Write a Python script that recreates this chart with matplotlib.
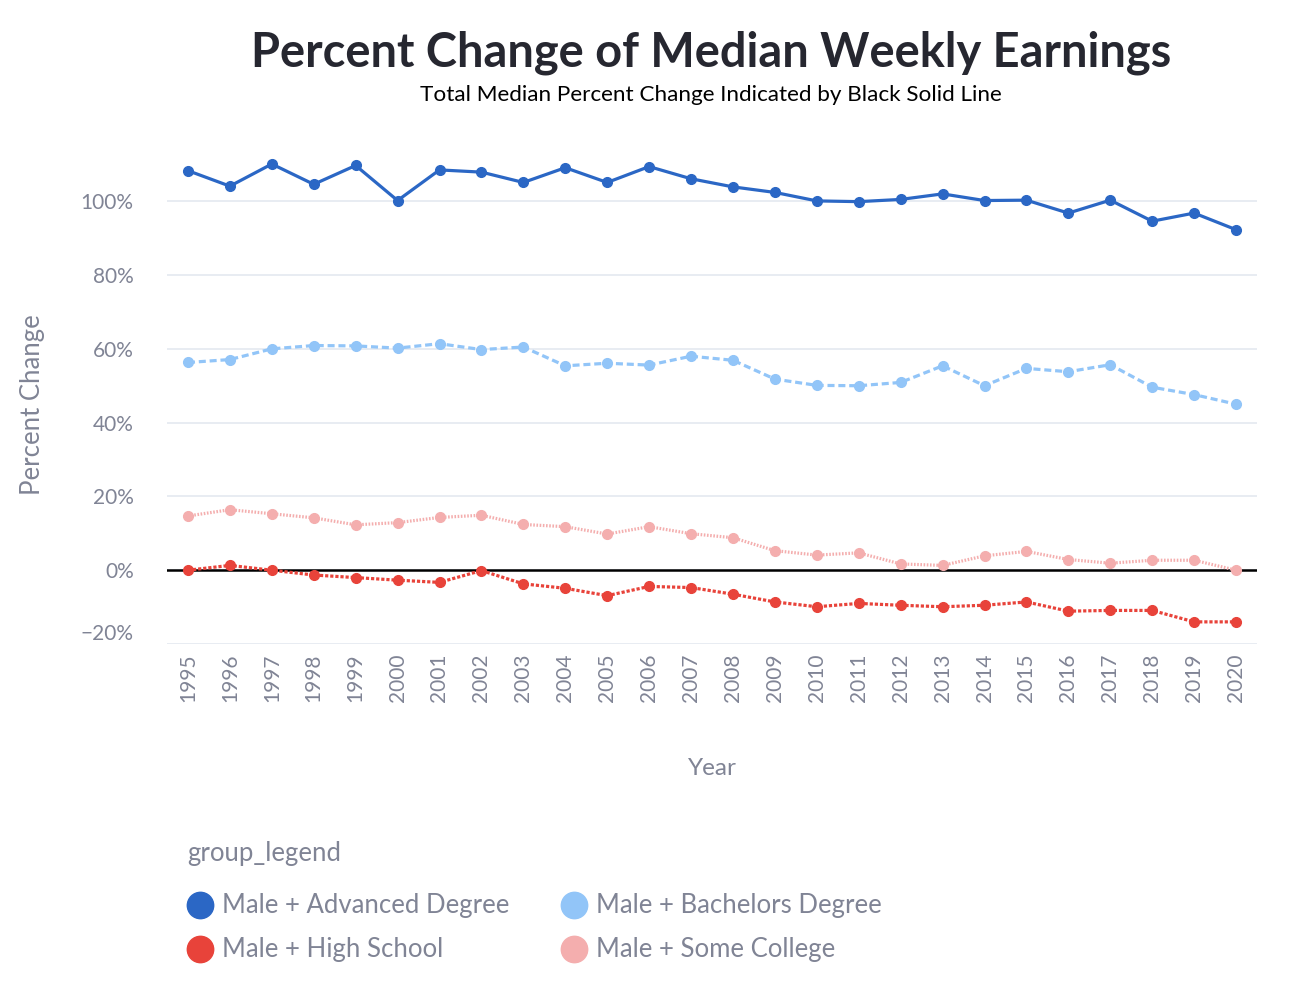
import numpy as np
import matplotlib
matplotlib.use("Agg")
import matplotlib.pyplot as plt
from matplotlib.lines import Line2D

years = list(range(1995, 2021))

advanced = [108.3, 104.1, 110.1, 104.6, 109.7, 100.2, 108.5, 107.9, 105.1, 109.1,
            105.1, 109.4, 106.1, 103.9, 102.4, 100.1, 99.9, 100.5, 102.0, 100.2,
            100.3, 96.8, 100.3, 94.6, 96.8, 92.3]
bachelors = [56.3, 57.1, 60.0, 60.9, 60.8, 60.2, 61.4, 59.8, 60.5, 55.4,
             56.1, 55.6, 58.0, 56.9, 51.8, 50.1, 50.0, 50.9, 55.4, 50.0,
             54.7, 53.8, 55.7, 49.6, 47.6, 45.0]
high_school = [0.0, 1.3, 0.0, -1.3, -2.0, -2.7, -3.3, -0.1, -3.7, -4.9,
               -6.9, -4.4, -4.7, -6.5, -8.6, -9.9, -9.0, -9.5, -9.9, -9.5,
               -8.6, -11.1, -10.9, -10.9, -14.0, -14.0]
some_college = [14.7, 16.4, 15.3, 14.2, 12.3, 12.9, 14.3, 14.9, 12.4, 11.8,
                9.8, 11.8, 9.9, 8.8, 5.3, 4.1, 4.7, 1.7, 1.3, 3.9,
                5.1, 2.9, 1.9, 2.7, 2.7, 0.0]
total_median = 0.0

yticks = [-20, 0, 20, 40, 60, 80, 100]

labels = ["Male + Advanced Degree", "Male + Bachelors Degree",
          "Male + High School", "Male + Some College"]
colors = ["#2b67c5", "#92c5f8", "#e8433a", "#f4aeae"]

plt.rcParams['font.family'] = ['Lato', 'DejaVu Sans']
gray = "#808495"

fig = plt.figure(figsize=(12.96, 10.06), dpi=100)
W, H = 1296, 1006
# plot area in pixels: left 167, right 1257, top 157, bottom 644
ax = fig.add_axes([167 / W, 1 - 644 / H, (1257 - 167) / W, (644 - 157) / H])

x = np.arange(len(years))
ax.plot(x, advanced, color=colors[0], lw=2.3, marker='o', ms=7, zorder=4)
ax.plot(x, bachelors, color=colors[1], lw=2.3, ls=(0, (2.2, 1.2)), marker='o', ms=7, zorder=4)
ax.plot(x, high_school, color=colors[2], lw=2.3, ls=(0, (1, 0.6)), marker='o', ms=7, zorder=4)
ax.plot(x, some_college, color=colors[3], lw=2.3, ls=(0, (0.5, 0.5)), marker='o', ms=7, zorder=4)
ax.axhline(total_median, color='black', lw=1.8, zorder=3)

ax.set_xlim(-0.5, len(years) - 0.5)
ax.set_ylim(-20, 112)
ax.set_xticks(x)
ax.set_xticklabels([str(y) for y in years], rotation=90, fontsize=15, color=gray)
ax.set_yticks(yticks)
ax.set_yticklabels([("\u221220%" if v < 0 else f"{v}%") for v in yticks], fontsize=15, color=gray)
# shift the bottom label up like the original
ax.get_yticklabels()[0].set_verticalalignment('bottom')
ax.tick_params(axis='both', length=0)
ax.tick_params(axis='y', pad=24)
ax.tick_params(axis='x', pad=7)
ax.grid(axis='y', color='#e6eaf1', lw=1.3)
ax.set_axisbelow(True)
for s in ax.spines.values():
    s.set_visible(False)

ax.set_xlabel("Year", fontsize=17.5, color=gray, labelpad=40)
fig.text(33 / W, 1 - 405 / H, "Percent Change", rotation=90, fontsize=18.5,
         color=gray, ha='center', va='center')

fig.text(711 / W, 1 - 53 / H, "Percent Change of Median Weekly Earnings",
         fontsize=33.8, fontweight='bold', color='#262730', ha='center', va='center')
fig.text(711 / W, 1 - 95 / H, "Total Median Percent Change Indicated by Black Solid Line",
         fontsize=16.2, color='black', ha='center', va='center')

# legend, laid out by hand in figure pixels
fig.text(187 / W, 1 - 853 / H, "group_legend", fontsize=18.5, color=gray,
         ha='left', va='center')
col_x = [200, 574]
row_y = [905, 949]
order = [0, 2, 1, 3]
for k, i in enumerate(order):
    cx = col_x[k // 2]
    cy = row_y[k % 2]
    fig.add_artist(Line2D([cx / W], [1 - cy / H], ls='none', marker='o', ms=19,
                          color=colors[i], transform=fig.transFigure))
    fig.text((cx + 22) / W, 1 - cy / H, labels[i], fontsize=18.5, color=gray,
             ha='left', va='center')

fig.savefig("out.png", dpi=100)
